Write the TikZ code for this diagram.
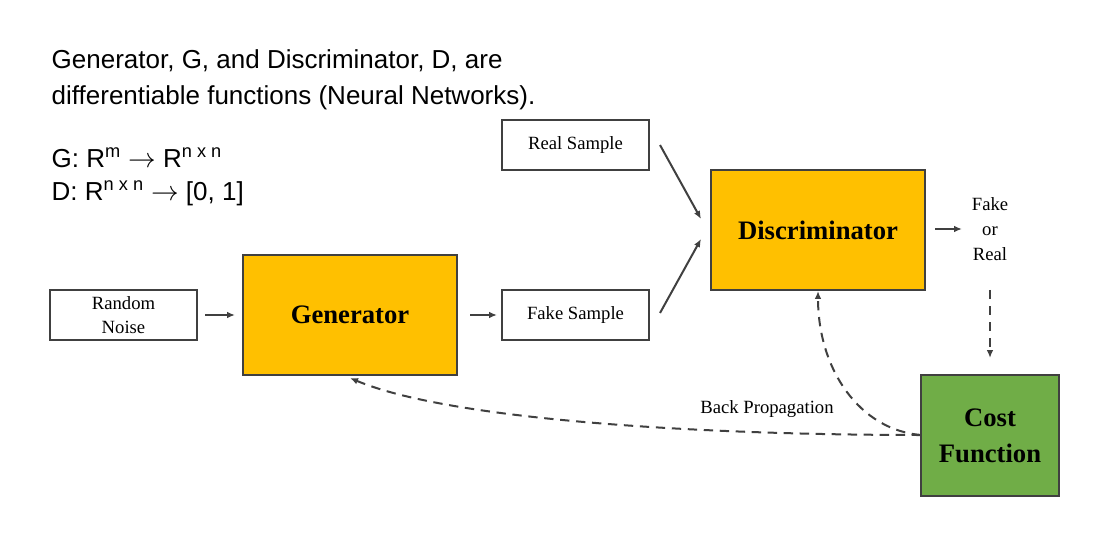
\documentclass[tikz,border=0pt]{standalone}
\usepackage{fontspec}
\setmainfont{Liberation Serif}
\newfontfamily\arialf{Liberation Sans}
\usetikzlibrary{arrows.meta}
\definecolor{gold}{HTML}{FFC000}
\definecolor{cgreen}{HTML}{70AD47}
\definecolor{lgray}{HTML}{404040}
\begin{document}
\begin{tikzpicture}[x=0.75pt,y=-0.75pt,
  wbox/.style={draw=lgray,line width=0.9pt,fill=white,minimum width=147*0.75pt,minimum height=50*0.75pt,align=center,font=\fontsize{14}{14}\selectfont,inner sep=0pt},
  gbox/.style={draw=lgray,line width=0.9pt,fill=gold,minimum width=214*0.75pt,minimum height=120*0.75pt,font=\fontsize{20}{20}\selectfont\bfseries,inner sep=0pt},
  arr/.style={-{Latex[length=6pt,width=5pt]},draw=lgray,line width=1.5pt},
  darr/.style={arr,dashed,dash pattern=on 7pt off 5pt}]
\useasboundingbox (0,0) rectangle (1112,534);
\node[anchor=west,font=\arialf\fontsize{19.5}{27}\selectfont,align=left] (t1) at (47,80) {Generator, G, and Discriminator, D, are\\differentiable functions (Neural Networks).};
\node[anchor=west,font=\arialf\fontsize{19.5}{25}\selectfont,align=left] (t2) at (47,177) {G: R\textsuperscript{m} $\rightarrow$ R\textsuperscript{n x n}\\D: R\textsuperscript{n x n} $\rightarrow$ [0, 1]};
\node[wbox,font=\fontsize{14}{18}\selectfont] (noise) at (123.5,315) {Random\\Noise};
\node[gbox] (gen) at (350,315) {Generator};
\node[wbox] (real) at (575.5,145) {Real Sample};
\node[wbox] (fake) at (575.5,315) {Fake Sample};
\node[gbox] (disc) at (818,230) {Discriminator};
\node[align=center,font=\fontsize{14}{19}\selectfont] (fr) at (990,229) {Fake\\or\\Real};
\node[draw=lgray,line width=0.9pt,fill=cgreen,minimum width=138*0.75pt,minimum height=121*0.75pt,align=center,font=\fontsize{20}{27}\selectfont\bfseries,inner sep=0pt] (cost) at (990,435.5) {Cost\\Function};
\coordinate (a1) at (205,315); \coordinate (a2) at (235,315);
\coordinate (b1) at (470,315); \coordinate (b2) at (497,315);
\coordinate (c1) at (660,145); \coordinate (c2) at (701,219);
\coordinate (d1) at (660,313); \coordinate (d2) at (701,239);
\coordinate (e1) at (935,229); \coordinate (e2) at (962,229);
\coordinate (f1) at (990,290); \coordinate (f2) at (990,358);
\coordinate (bpend) at (921,435);
\draw[arr] (a1) -- (a2);
\draw[arr] (b1) -- (b2);
\draw[arr] (c1) -- (c2);
\draw[arr] (d1) -- (d2);
\draw[arr] (e1) -- (e2);
\draw[darr] (f1) -- (f2);
\draw[darr] (bpend) .. controls (700,435) and (450,420) .. (350,378);
\draw[darr] (bpend) .. controls (860,430) and (818,370) .. (818,291);
\node[font=\fontsize{14}{14}\selectfont] (bp) at (767,409) {Back Propagation};
\end{tikzpicture}
\end{document}
